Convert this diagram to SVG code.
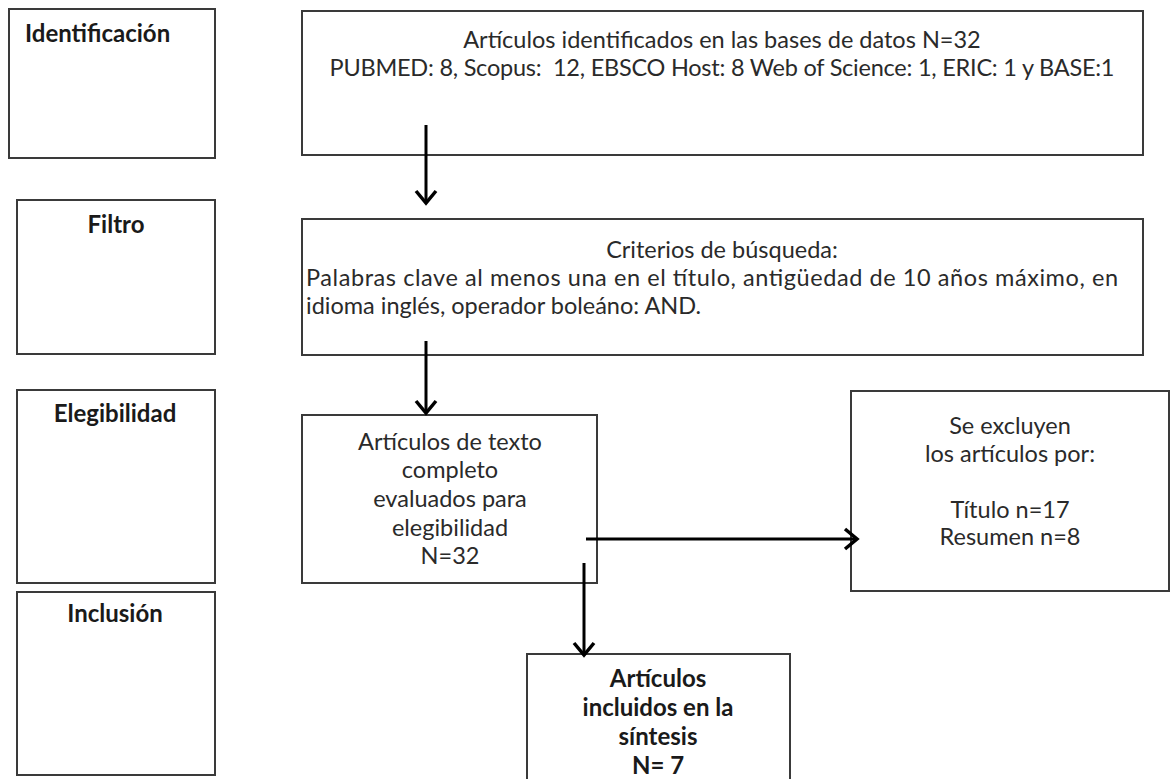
<svg xmlns="http://www.w3.org/2000/svg" width="1171" height="779" viewBox="0 0 1171 779">
<style>
.box{fill:#fff;stroke:#3a3a3a;stroke-width:2}
.t{font-family:Lato,"Liberation Sans",sans-serif;font-size:23.5px;fill:#2a2a2a}
.b{font-family:Lato,"Liberation Sans",sans-serif;font-size:24px;font-weight:bold;fill:#1a1a1a}
.c{text-anchor:middle}
.arr{stroke:#000;stroke-width:3;fill:none}
</style>
<defs>
<marker id="ah" viewBox="0 0 24 24" refX="14" refY="12" markerWidth="24" markerHeight="24" markerUnits="userSpaceOnUse" orient="auto">
<path d="M2,2 L14,12 L2,22" fill="none" stroke="#000" stroke-width="3.5"/>
</marker>
</defs>
<rect width="1171" height="779" fill="#fff"/>
<g id="stage-identificacion"><rect class="box" x="9" y="9" width="206" height="149"/><text class="b" x="25" y="42">Identificación</text></g>
<g id="stage-filtro"><rect class="box" x="17" y="200" width="198" height="154"/><text class="b c" x="116" y="233">Filtro</text></g>
<g id="stage-elegibilidad"><rect class="box" x="17" y="390" width="198" height="193"/><text class="b c" x="115" y="422">Elegibilidad</text></g>
<g id="stage-inclusion"><rect class="box" x="17" y="592" width="198" height="183"/><text class="b c" x="115" y="622">Inclusión</text></g>
<g id="identificados"><rect class="box" x="302" y="11" width="841" height="144"/>
<text class="t c" x="722" y="48">Artículos identificados en las bases de datos N=32</text>
<text class="t c" x="722" y="76" textLength="785" xml:space="preserve">PUBMED: 8, Scopus:  12, EBSCO Host: 8 Web of Science: 1, ERIC: 1 y BASE:1</text></g>
<g id="criterios"><rect class="box" x="302" y="219" width="841" height="136"/>
<text class="t c" x="722" y="258">Criterios de búsqueda:</text>
<text class="t" x="306" y="286" textLength="812">Palabras clave al menos una en el título, antigüedad de 10 años máximo, en</text>
<text class="t" x="306" y="314">idioma inglés, operador boleáno: AND.</text></g>
<g id="texto-completo"><rect class="box" x="302" y="415" width="295" height="168"/>
<text class="t c" x="450" y="450">Artículos de texto</text>
<text class="t c" x="450" y="478">completo</text>
<text class="t c" x="450" y="507">evaluados para</text>
<text class="t c" x="450" y="536">elegibilidad</text>
<text class="t c" x="450" y="564">N=32</text></g>
<g id="excluidos"><rect class="box" x="851" y="391" width="318" height="200"/>
<text class="t c" x="1010" y="434">Se excluyen</text>
<text class="t c" x="1010" y="462">los artículos por:</text>
<text class="t c" x="1010" y="518">Título n=17</text>
<text class="t c" x="1010" y="545">Resumen n=8</text></g>
<g id="incluidos"><rect class="box" x="527" y="654" width="263" height="130"/>
<text class="b c" x="658" y="687">Artículos</text>
<text class="b c" x="658" y="716">incluidos en la</text>
<text class="b c" x="658" y="745">síntesis</text>
<text class="b c" x="658" y="774">N= 7</text></g>
<g id="connectors">
<line class="arr" x1="426" y1="125" x2="426" y2="203" marker-end="url(#ah)"/>
<line class="arr" x1="426" y1="341" x2="426" y2="413" marker-end="url(#ah)"/>
<line class="arr" x1="586" y1="539" x2="857" y2="539" marker-end="url(#ah)"/>
<line class="arr" x1="584" y1="563" x2="584" y2="655" marker-end="url(#ah)"/>
</g>
</svg>
